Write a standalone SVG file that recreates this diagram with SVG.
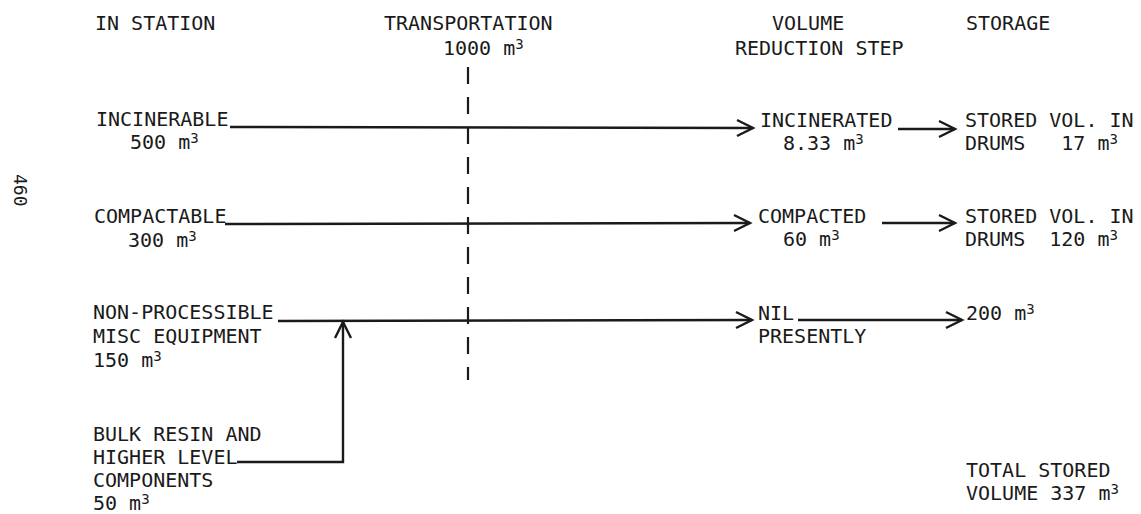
<svg xmlns="http://www.w3.org/2000/svg" width="1141" height="514" viewBox="0 0 1141 514">
<style>
text{font-family:"DejaVu Sans Mono","Liberation Mono",monospace;font-size:20px;fill:#1a1a1a;white-space:pre}
.sup{font-size:14px}
.ln{stroke:#1a1a1a;stroke-width:2.4;fill:none}
.dash{stroke:#1a1a1a;stroke-width:2.2;fill:none;stroke-dasharray:17 13}
.pg{font-size:18px}
</style>
<defs>
<marker id="arr" markerUnits="userSpaceOnUse" markerWidth="24" markerHeight="24" viewBox="-20 -12 24 24" refX="0" refY="0" orient="auto">
<path d="M-16,-8 L0,0 L-16,8" fill="none" stroke="#1a1a1a" stroke-width="2.4"/>
</marker>
</defs>
<rect width="1141" height="514" fill="#ffffff"/>
<text class="pg" transform="translate(14,174) rotate(90)">460</text>
<g id="headers">
<text x="95" y="30">IN STATION</text>
<text x="384" y="30">TRANSPORTATION</text>
<text x="443" y="55">1000 m<tspan class="sup" dy="-6">3</tspan></text>
<text x="772" y="30">VOLUME</text>
<text x="735" y="55">REDUCTION STEP</text>
<text x="966" y="30">STORAGE</text>
</g>
<g id="n-incinerable"><text x="96" y="126">INCINERABLE</text><text x="130" y="149">500 m<tspan class="sup" dy="-6">3</tspan></text></g>
<g id="n-compactable"><text x="94" y="223">COMPACTABLE</text><text x="128" y="247">300 m<tspan class="sup" dy="-6">3</tspan></text></g>
<g id="n-nonproc"><text x="93" y="319">NON-PROCESSIBLE</text><text x="93" y="343">MISC EQUIPMENT</text><text x="93" y="367">150 m<tspan class="sup" dy="-6">3</tspan></text></g>
<g id="n-bulk"><text x="93" y="441">BULK RESIN AND</text><text x="93" y="464">HIGHER LEVEL</text><text x="93" y="487">COMPONENTS</text><text x="93" y="510">50 m<tspan class="sup" dy="-6">3</tspan></text></g>
<g id="n-incinerated"><text x="760" y="127">INCINERATED</text><text x="783" y="150">8.33 m<tspan class="sup" dy="-6">3</tspan></text></g>
<g id="n-compacted"><text x="758" y="223">COMPACTED</text><text x="783" y="246">60 m<tspan class="sup" dy="-6">3</tspan></text></g>
<g id="n-nil"><text x="758" y="320">NIL</text><text x="758" y="343">PRESENTLY</text></g>
<g id="n-store1"><text x="965" y="127">STORED VOL. IN</text><text x="965" y="150">DRUMS   17 m<tspan class="sup" dy="-6">3</tspan></text></g>
<g id="n-store2"><text x="965" y="223">STORED VOL. IN</text><text x="965" y="246">DRUMS  120 m<tspan class="sup" dy="-6">3</tspan></text></g>
<g id="n-store3"><text x="966" y="320">200 m<tspan class="sup" dy="-6">3</tspan></text></g>
<g id="n-total"><text x="966" y="477">TOTAL STORED</text><text x="966" y="500">VOLUME 337 m<tspan class="sup" dy="-6">3</tspan></text></g>
<g id="connectors">
<line class="dash" x1="468" y1="67" x2="468" y2="380"/>
<line class="ln" x1="230" y1="127" x2="753" y2="128" marker-end="url(#arr)"/>
<line class="ln" x1="898" y1="129" x2="955" y2="129" marker-end="url(#arr)"/>
<line class="ln" x1="225" y1="224" x2="750" y2="223" marker-end="url(#arr)"/>
<line class="ln" x1="882" y1="223" x2="955" y2="223" marker-end="url(#arr)"/>
<line class="ln" x1="278" y1="321" x2="752" y2="320" marker-end="url(#arr)"/>
<line class="ln" x1="798" y1="320" x2="962" y2="320" marker-end="url(#arr)"/>
<polyline class="ln" points="237,462 343,462 343,322" marker-end="url(#arr)"/>
</g>
</svg>
